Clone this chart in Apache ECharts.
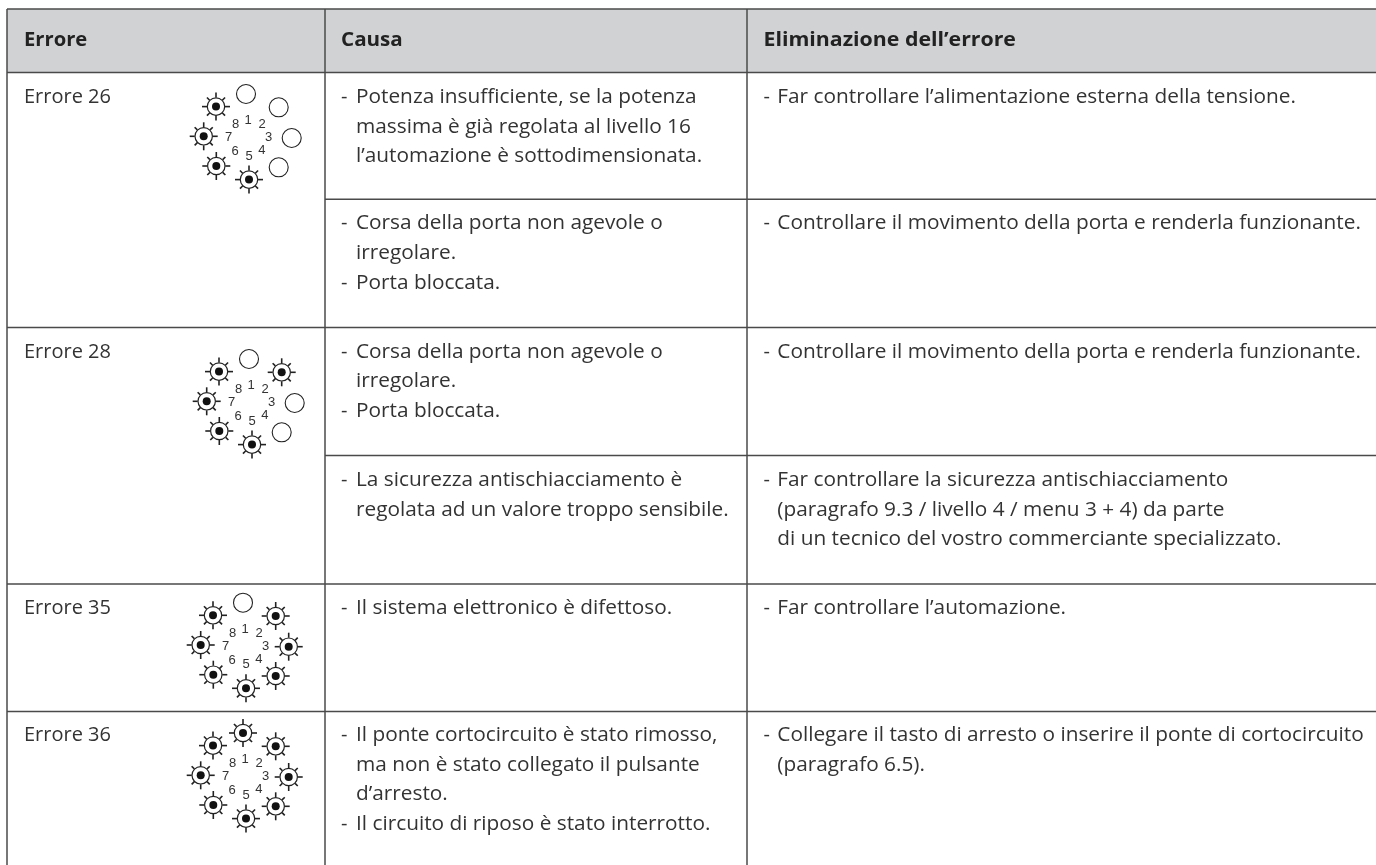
<!DOCTYPE html>
<html>
<head>
<meta charset="utf-8">
<style>html,body{margin:0;padding:0;background:#fff}#c{width:1376px;height:865px}</style>
<script src="https://cdn.jsdelivr.net/npm/echarts@6/dist/echarts.min.js"></script>
</head>
<body>
<div id="c"></div>
<script>
// ---- table content ----
const headers = ['Errore', 'Causa', 'Eliminazione dell\u2019errore'];
const errorNames = ['Errore 26', 'Errore 28', 'Errore 35', 'Errore 36'];
const ledNumbers = ['1', '2', '3', '4', '5', '6', '7', '8'];
// LED on/off state for numbers 1..8
const leds26 = [0, 0, 0, 0, 1, 1, 1, 1];
const leds28 = [0, 1, 0, 0, 1, 1, 1, 1];
const leds35 = [0, 1, 1, 1, 1, 1, 1, 1];
const leds36 = [1, 1, 1, 1, 1, 1, 1, 1];
// Column 2 (Causa): one entry per row, each a list of lines; leading "- " marks a bullet
const causes = [
  ['- Potenza insufficiente, se la potenza', 'massima \u00e8 gi\u00e0 regolata al livello 16', 'l\u2019automazione \u00e8 sottodimensionata.'],
  ['- Corsa della porta non agevole o', 'irregolare.', '- Porta bloccata.'],
  ['- Corsa della porta non agevole o', 'irregolare.', '- Porta bloccata.'],
  ['- La sicurezza antischiacciamento \u00e8', 'regolata ad un valore troppo sensibile.'],
  ['- Il sistema elettronico \u00e8 difettoso.'],
  ['- Il ponte cortocircuito \u00e8 stato rimosso,', 'ma non \u00e8 stato collegato il pulsante', 'd\u2019arresto.', '- Il circuito di riposo \u00e8 stato interrotto.']
];
// Column 3 (Eliminazione)
const fixes = [
  ['- Far controllare l\u2019alimentazione esterna della tensione.'],
  ['- Controllare il movimento della porta e renderla funzionante.'],
  ['- Controllare il movimento della porta e renderla funzionante.'],
  ['- Far controllare la sicurezza antischiacciamento', '(paragrafo 9.3 / livello 4 / menu 3 + 4) da parte', 'di un tecnico del vostro commerciante specializzato.'],
  ['- Far controllare l\u2019automazione.'],
  ['- Collegare il tasto di arresto o inserire il ponte di cortocircuito', '(paragrafo 6.5).']
];

// ---- layout ----
const W = 1376, H = 865;
const INK = '#333333', RULE = '#4a4a4a';
const colX = [7, 325, 747];
const rowTop = [72.5, 199.3, 327.5, 455.5, 584, 711.5];
const headTop = 9;
const LINE = 29.6;
const BASE_SHIFT = 6.4;
const firstBase = [103.8, 230, 358.3, 486.7, 614.3, 741.8];
const dashX = [341, 763.5], bodyX = [356, 777.3];
const SCALE = [1.04, 1.04];
const HEAD_SCALE = [1.01, 1.03, 1.065];
const ringX = [243, 275.7, 288.7, 275.7, 246, 213.3, 200.7, 213];
const ringY = [602.7, 616, 646.7, 676, 688.3, 674.7, 645, 615.3];
const numX = [245, 259, 265.5, 258.8, 246, 232, 225.7, 232.5];
const numY = [629, 633.5, 646.3, 659, 664.8, 660, 646.5, 633.3];
const clusterOffsets = [[3, -508.7], [6, -243.7], [0, 0], [0, 130.3]];
const clusterStates = [leds26, leds28, leds35, leds36];
const errorBase = [103.8, 358.3, 614.3, 741.8];

// ---- build data rows ----
const rules = [
  [colX[0], headTop, W, headTop], [colX[0], rowTop[0], W, rowTop[0]],
  [colX[1], rowTop[1], W, rowTop[1]], [colX[0], rowTop[2], W, rowTop[2]],
  [colX[1], rowTop[3], W, rowTop[3]], [colX[0], rowTop[4], W, rowTop[4]],
  [colX[0], rowTop[5], W, rowTop[5]],
  [colX[0], headTop, colX[0], H], [colX[1], headTop, colX[1], H], [colX[2], headTop, colX[2], H]
];
const textRows = []; // x, baseline y, text, weight, scale
const headInset = [17, 16, 16.5];
headers.forEach((h, i) => textRows.push([colX[i] + headInset[i], 46.7, h, 1, HEAD_SCALE[i]]));
errorNames.forEach((n, i) => textRows.push([24, errorBase[i], n, 0, 1]));
function pushColumn(rows, col) {
  rows.forEach((lines, r) => lines.forEach((line, l) => {
    const y = firstBase[r] + l * LINE;
    if (line.startsWith('- ')) {
      textRows.push([dashX[col], y, '-', 0, 1]);
      textRows.push([bodyX[col], y, line.slice(2), 0, SCALE[col]]);
    } else textRows.push([bodyX[col], y, line, 0, SCALE[col]]);
  }));
}
pushColumn(causes, 0);
pushColumn(fixes, 1);

const ledRows = [], numRows = [];
clusterOffsets.forEach((o, c) => ledNumbers.forEach((n, i) => {
  ledRows.push([ringX[i] + o[0], ringY[i] + o[1], clusterStates[c][i]]);
  numRows.push([numX[i] + o[0], numY[i] + o[1], n]);
}));

const chart = echarts.init(document.getElementById('c'), null, {renderer: 'canvas'});
chart.setOption({
  animation: false,
  backgroundColor: '#fff',
  grid: {left: 0, right: 0, top: 0, bottom: 0},
  xAxis: {type: 'value', min: 0, max: W, show: false},
  yAxis: {type: 'value', min: 0, max: H, inverse: true, show: false},
  series: [
    {
      name: 'Intestazione', type: 'custom', coordinateSystem: 'cartesian2d', silent: true, z: 1,
      data: [[colX[0], headTop, W, rowTop[0]]],
      renderItem(p, api) {
        const a = api.coord([api.value(0), api.value(1)]), b = api.coord([api.value(2), api.value(3)]);
        return {type: 'rect', shape: {x: a[0], y: a[1], width: b[0] - a[0], height: b[1] - a[1]}, style: {fill: '#d0d2d3'}};
      }
    },
    {
      name: 'Righe', type: 'custom', coordinateSystem: 'cartesian2d', silent: true, z: 2,
      data: rules,
      renderItem(p, api) {
        const a = api.coord([api.value(0), api.value(1)]), b = api.coord([api.value(2), api.value(3)]);
        return {type: 'line', shape: {x1: a[0], y1: a[1], x2: b[0], y2: b[1]}, style: {stroke: RULE, lineWidth: 1.5}};
      }
    },
    {
      name: 'Testo', type: 'custom', coordinateSystem: 'cartesian2d', silent: true, z: 3,
      data: textRows,
      encode: {x: 0, y: 1},
      dimensions: ['x', 'y', {name: 't', type: 'ordinal'}, 'w', 's'],
      renderItem(p, api) {
        const row = textRows[p.dataIndex];
        const a = api.coord([row[0], row[1] - BASE_SHIFT]);
        const bold = row[3] === 1;
        return {
          type: 'text', x: a[0], y: a[1], scaleX: row[4],
          style: {
            text: row[2], fill: bold ? '#222' : INK, align: 'left', verticalAlign: 'middle',
            font: (bold ? '700 ' : '400 ') + '20px "Open Sans"'
          }
        };
      }
    },
    {
      name: 'LED', type: 'custom', coordinateSystem: 'cartesian2d', silent: true, z: 3,
      data: ledRows,
      renderItem(p, api) {
        const c = api.coord([api.value(0), api.value(1)]);
        const on = api.value(2) === 1;
        const kids = [];
        if (!on) {
          kids.push({type: 'circle', shape: {cx: c[0], cy: c[1], r: 9.5}, style: {fill: '#fff', stroke: '#222', lineWidth: 1.1}});
        } else {
          for (let k = 0; k < 8; k++) {
            const t = k * Math.PI / 4, cs = Math.cos(t), sn = Math.sin(t);
            const outer = k % 2 ? 12.8 : 14;
            kids.push({type: 'line', shape: {x1: c[0] + 9 * cs, y1: c[1] + 9 * sn, x2: c[0] + outer * cs, y2: c[1] + outer * sn}, style: {stroke: '#222', lineWidth: 1.6}});
          }
          kids.push({type: 'circle', shape: {cx: c[0], cy: c[1], r: 8.7}, style: {fill: '#fff', stroke: '#222', lineWidth: 1.2}});
          kids.push({type: 'circle', shape: {cx: c[0], cy: c[1], r: 4}, style: {fill: '#111'}});
        }
        return {type: 'group', children: kids};
      }
    },
    {
      name: 'Numeri', type: 'custom', coordinateSystem: 'cartesian2d', silent: true, z: 3,
      data: numRows,
      encode: {x: 0, y: 1},
      dimensions: ['x', 'y', {name: 'n', type: 'ordinal'}],
      renderItem(p, api) {
        const row = numRows[p.dataIndex];
        const a = api.coord([row[0], row[1]]);
        return {type: 'text', x: a[0], y: a[1], style: {text: row[2], fill: '#333', align: 'center', verticalAlign: 'middle', font: '13px "Liberation Sans"'}};
      }
    }
  ]
});
</script>
</body>
</html>
